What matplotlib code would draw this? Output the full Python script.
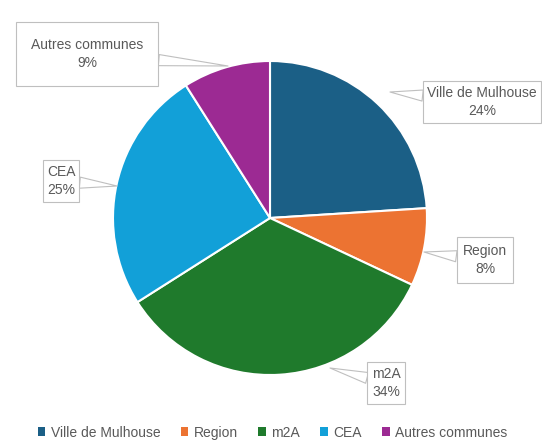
import matplotlib.pyplot as plt
from matplotlib.patches import Patch

# donnees du graphique
labels = ["Ville de Mulhouse", "Region", "m2A", "CEA", "Autres communes"]
values = [24, 8, 34, 25, 9]
colors = ["#1b5f86", "#ec7332", "#1f7a2c", "#12a0d8", "#9c2a93"]

# positions des etiquettes (pixels), pointes des bulles
label_pos = [(482, 102), (485, 260), (386, 383), (61, 181), (87, 54)]
tip_pos = [(390, 92), (424, 252), (330, 368), (117, 186), (228, 66)]
box_pad = [0.3, 0.45, 0.3, 0.3, 1.1]

W, H = 542, 441
fig = plt.figure(figsize=(W / 100, H / 100), dpi=100)
ax = fig.add_axes([0, 0, 1, 1])

# y inverse -> sens horaire depuis le haut
wedges, _ = ax.pie(values, colors=colors, startangle=-90, counterclock=True,
                   radius=157, center=(270, 218), frame=True,
                   wedgeprops=dict(edgecolor="white", linewidth=1.5))
ax.set_xlim(0, W)
ax.set_ylim(H, 0)
ax.set_aspect("equal")
ax.axis("off")

for lab, v, (x, y), (tx, ty), pad in zip(labels, values, label_pos, tip_pos, box_pad):
    ax.annotate(f"{lab}\n{v}%", xy=(tx, ty), xytext=(x, y),
                ha="center", va="center", fontsize=10, color="#595959",
                family="Liberation Sans", linespacing=1.45,
                bbox=dict(boxstyle=f"square,pad={pad}", fc="white", ec="#bfbfbf", lw=0.8),
                arrowprops=dict(arrowstyle="wedge,tail_width=0.8,shrink_factor=0.5",
                                shrinkA=0, shrinkB=0,
                                fc="white", ec="#bfbfbf", lw=0.8))

handles = [Patch(facecolor=c, edgecolor="none") for c in colors]
fig.legend(handles, labels, loc="lower center", bbox_to_anchor=(0.503, -0.025), ncol=5,
           frameon=False, handlelength=0.55, handleheight=0.55, handletextpad=0.4,
           columnspacing=1.45, prop=dict(family="Liberation Sans", size=10),
           labelcolor="#595959")

fig.savefig("out.png", dpi=100)
